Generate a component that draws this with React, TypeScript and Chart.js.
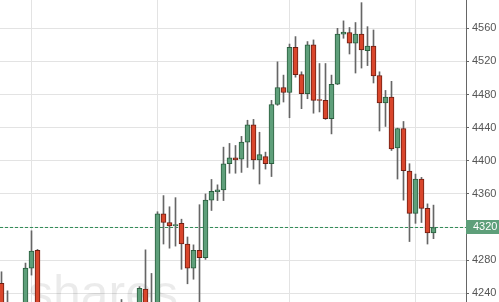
import { useEffect, useRef } from "react";
import { Chart, registerables } from "chart.js";
Chart.register(...registerables);

// Daily candles, oldest first (those below 4229 are hidden by the frame)
const OPEN = [
  4252, 4200, 4215, 4196, 4214, 4270.5, 4292, 4212, 4186, 4200,
  4192, 4178, 4188, 4210, 4196, 4172, 4184, 4205, 4190, 4208,
  4200, 4218, 4202, 4214, 4245, 4212, 4224, 4336, 4325.5, 4321.5,
  4324.5, 4299.5, 4270.5, 4292, 4283, 4352.5, 4362.5, 4365, 4396.5, 4403.5,
  4402, 4422.5, 4443.5, 4401, 4405, 4396.5, 4468, 4488.5, 4482.5, 4537,
  4504, 4481, 4540, 4474, 4473, 4451, 4492.5, 4553, 4555, 4542,
  4553, 4533, 4538.5, 4503, 4470, 4477, 4415.5, 4439, 4387.5, 4336.5,
  4378, 4342.5, 4313,
];
const HIGH = [
  4266, 4243, 4226, 4222, 4276.5, 4315.5, 4293, 4226, 4210, 4222,
  4215, 4196, 4218, 4224, 4206, 4190, 4212, 4221, 4214, 4225,
  4232.5, 4226, 4220, 4248, 4292.5, 4264, 4338.5, 4358, 4344.5, 4355.5,
  4329.5, 4308, 4298.5, 4347, 4360, 4377.5, 4371, 4416.5, 4421, 4418.5,
  4429.5, 4449, 4450, 4434.5, 4410.5, 4473, 4519.5, 4503.5, 4541, 4550,
  4507.5, 4544, 4546, 4517.5, 4517.5, 4503.5, 4560, 4569, 4561, 4567,
  4591, 4562, 4558, 4507.5, 4485, 4496, 4439.5, 4447.5, 4396.5, 4384,
  4380, 4348, 4346.5,
];
const LOW = [
  4205, 4192, 4190, 4185, 4208, 4262, 4205, 4180, 4172, 4188,
  4170, 4160, 4180, 4192, 4165, 4155, 4176, 4186, 4182, 4195,
  4188, 4196, 4192, 4208, 4212, 4204, 4218, 4299.5, 4294.5, 4297,
  4269, 4251.5, 4257, 4222, 4281, 4340, 4352, 4352, 4385, 4385,
  4386, 4392, 4390, 4372, 4390, 4381, 4467, 4471, 4452, 4501,
  4463, 4475, 4457.5, 4459, 4450, 4432.5, 4492, 4548, 4529, 4506,
  4512, 4515, 4494, 4436, 4441.5, 4412.5, 4378, 4352.5, 4302.5, 4324.5,
  4325.5, 4299.5, 4306,
];
const CLOSE = [
  4212, 4222, 4196, 4214, 4270.5, 4291, 4212, 4186, 4200, 4192,
  4178, 4188, 4210, 4196, 4172, 4184, 4205, 4190, 4208, 4200,
  4218, 4202, 4214, 4246, 4218, 4224, 4336, 4325.5, 4321.5, 4323,
  4299.5, 4270.5, 4292, 4283, 4352.5, 4363, 4365, 4396.5, 4403.5, 4401,
  4422.5, 4443.5, 4401, 4407.5, 4396.5, 4468, 4488.5, 4482.5, 4537, 4504,
  4481, 4540, 4473, 4473, 4451, 4492.5, 4553, 4555.5, 4542, 4553,
  4534, 4538.5, 4502.5, 4470, 4477, 4414.5, 4439, 4388, 4336.5, 4378,
  4342.5, 4313, 4319.5,
];

const Y_TICKS = [4240, 4280, 4320, 4360, 4400, 4440, 4480, 4520, 4560];
const X_GRID = [5, 26, 48, 69];
const Y_MIN = 4229.5;
const Y_MAX = 4594.2;
const X_MIN = -0.25;
const X_MAX = 77.417;
const WATERMARK = "shares";

const GREEN = "#5e9f7a";
const GREEN_EDGE = "#2a5e3e";
const RED = "#d9462c";
const RED_EDGE = "#6e1e12";
const WICK = "#666666";
const GRID = "#e3e3e3";
const FONT = "Arial, 'Liberation Sans', sans-serif";

export default function App() {
  const ref = useRef<HTMLCanvasElement | null>(null);

  useEffect(() => {
    document.body.style.margin = "0";
    const canvas = ref.current;
    if (!canvas) return;
    const idx = OPEN.map((_, i) => i);
    const up = idx.map((i) => CLOSE[i] >= OPEN[i]);
    const last = CLOSE[CLOSE.length - 1];

    const watermark = {
      id: "watermark",
      beforeDatasetsDraw(chart: any) {
        const { ctx, chartArea } = chart;
        ctx.save();
        ctx.beginPath();
        ctx.rect(chartArea.left, chartArea.top, chartArea.right - chartArea.left, chartArea.bottom - chartArea.top);
        ctx.clip();
        ctx.font = "50px " + FONT;
        ctx.fillStyle = "rgba(0,0,0,0.08)";
        ctx.textBaseline = "alphabetic";
        ctx.textAlign = "left";
        ctx.fillText(WATERMARK, 28, 310);
        ctx.restore();
      },
    };

    const priceTag = {
      id: "priceTag",
      afterDraw(chart: any) {
        const { ctx, chartArea } = chart;
        const y = chart.scales.y.getPixelForValue(last);
        ctx.save();
        ctx.fillStyle = GREEN;
        ctx.fillRect(chartArea.right, Math.round(y) - 7, chart.width - chartArea.right, 14);
        ctx.fillStyle = "#ffffff";
        ctx.font = "11px " + FONT;
        ctx.textBaseline = "middle";
        ctx.textAlign = "left";
        ctx.fillText(String(Math.round(last)), chartArea.right + 7, Math.round(y));
        ctx.restore();
      },
    };

    const chart = new Chart(canvas, {
      type: "bar",
      data: {
        datasets: [
          {
            type: "line",
            data: [
              { x: X_MIN, y: last },
              { x: X_MAX, y: last },
            ],
            borderColor: "#2f8a55",
            borderWidth: 1,
            borderDash: [3, 2],
            pointRadius: 0,
            order: 3,
          } as any,
          {
            type: "bar",
            data: idx.map((i) => ({ x: i, y: [LOW[i], HIGH[i]] })),
            backgroundColor: WICK,
            borderWidth: 0,
            barThickness: 1,
            grouped: false,
            order: 2,
          } as any,
          {
            type: "bar",
            data: idx.map((i) => ({ x: i, y: [OPEN[i], CLOSE[i]] })),
            backgroundColor: up.map((u) => (u ? GREEN : RED)),
            borderColor: up.map((u) => (u ? GREEN_EDGE : RED_EDGE)),
            borderWidth: 1,
            borderSkipped: false,
            barThickness: 5,
            grouped: false,
            order: 1,
          } as any,
        ],
      },
      options: {
        animation: false,
        responsive: false,
        layout: { padding: 0 },
        plugins: { legend: { display: false }, tooltip: { enabled: false } },
        scales: {
          x: {
            type: "linear",
            min: X_MIN,
            max: X_MAX,
            offset: false,
            afterBuildTicks: (s: any) => {
              s.ticks = X_GRID.map((v) => ({ value: v }));
            },
            afterFit: (s: any) => {
              s.height = 0;
              s.paddingLeft = 0;
              s.paddingRight = 0;
            },
            grid: { color: GRID, drawTicks: false, offset: false },
            border: { display: false },
            ticks: { display: false },
          },
          y: {
            type: "linear",
            position: "right",
            min: Y_MIN,
            max: Y_MAX,
            afterBuildTicks: (s: any) => {
              s.ticks = Y_TICKS.map((v) => ({ value: v }));
            },
            afterFit: (s: any) => {
              s.width = 33;
              s.paddingTop = 0;
              s.paddingBottom = 0;
            },
            grid: { color: GRID, tickColor: "#666", tickLength: 3 },
            border: { color: "#666", width: 1 },
            ticks: {
              color: "#555",
              padding: 3,
              font: { size: 11, family: FONT },
              callback: (v: any) => String(v),
            },
          },
        },
      } as any,
      plugins: [watermark, priceTag],
    });
    return () => chart.destroy();
  }, []);

  return (
    <div style={{ position: "fixed", left: 0, top: 0, width: 499, height: 302 }}>
      <canvas ref={ref} width={499} height={302} />
    </div>
  );
}
